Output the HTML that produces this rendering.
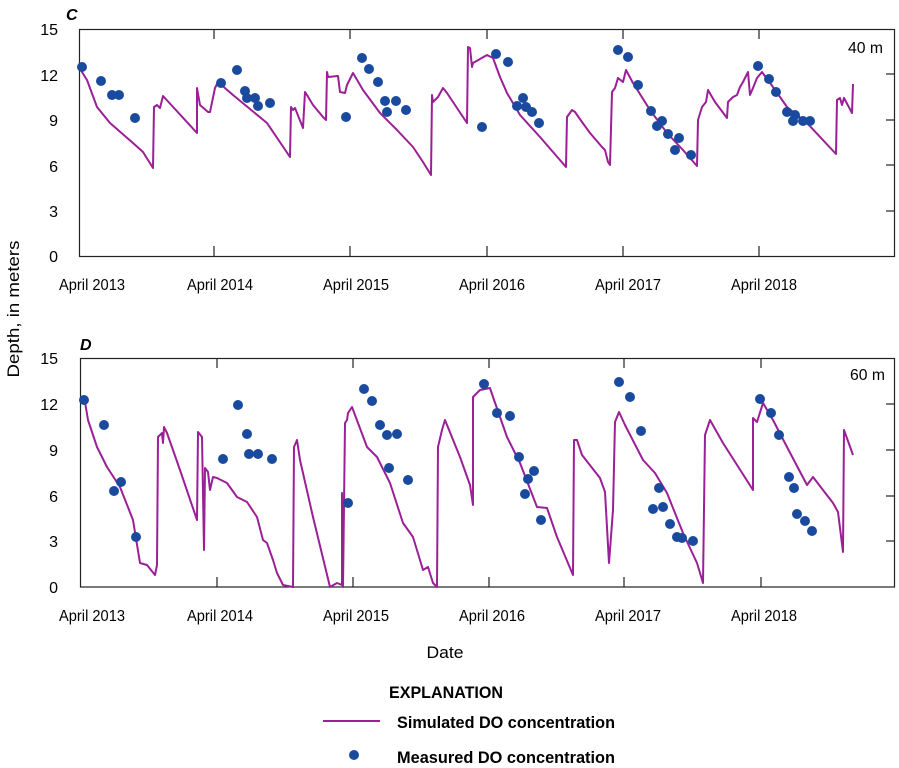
<!DOCTYPE html>
<html><head><meta charset="utf-8"><style>
html,body{margin:0;padding:0;background:#fff;}
svg{display:block;font-family:"Liberation Sans",sans-serif;}
</style></head><body>
<svg width="899" height="768" viewBox="0 0 899 768" xmlns="http://www.w3.org/2000/svg">
<!-- Panel C -->
<text x="66" y="20" font-size="16" font-weight="bold" font-style="italic">C</text>
<rect x="79.5" y="29.5" width="815" height="227" fill="none" stroke="#222" stroke-width="1.2"/>
<g stroke="#222" stroke-width="1.2">
<line x1="214" y1="29" x2="214" y2="39"/><line x1="350" y1="29" x2="350" y2="39"/><line x1="487" y1="29" x2="487" y2="39"/><line x1="623" y1="29" x2="623" y2="39"/><line x1="759" y1="29" x2="759" y2="39"/>
<line x1="214" y1="256" x2="214" y2="246"/><line x1="350" y1="256" x2="350" y2="246"/><line x1="487" y1="256" x2="487" y2="246"/><line x1="623" y1="256" x2="623" y2="246"/><line x1="759" y1="256" x2="759" y2="246"/>
<line x1="894" y1="74" x2="886" y2="74"/><line x1="894" y1="120" x2="886" y2="120"/><line x1="894" y1="165" x2="886" y2="165"/><line x1="894" y1="211" x2="886" y2="211"/>
</g>
<g font-size="16" text-anchor="end">
<text x="58" y="35">15</text><text x="58" y="81">12</text><text x="58" y="126">9</text><text x="58" y="172">6</text><text x="58" y="217">3</text><text x="58" y="262">0</text>
</g>
<g font-size="16" text-anchor="middle">
<text x="92" y="290" textLength="66" lengthAdjust="spacingAndGlyphs">April 2013</text><text x="220" y="290" textLength="66" lengthAdjust="spacingAndGlyphs">April 2014</text><text x="356" y="290" textLength="66" lengthAdjust="spacingAndGlyphs">April 2015</text><text x="492" y="290" textLength="66" lengthAdjust="spacingAndGlyphs">April 2016</text><text x="628" y="290" textLength="66" lengthAdjust="spacingAndGlyphs">April 2017</text><text x="764" y="290" textLength="66" lengthAdjust="spacingAndGlyphs">April 2018</text>
</g>
<text x="883" y="53" font-size="16" text-anchor="end" textLength="35" lengthAdjust="spacingAndGlyphs">40 m</text>
<polyline fill="none" stroke="#9b1f96" stroke-width="2" stroke-linejoin="round" points="80,64 82,72 87,80 97,107 110,123 133,143 143,152 153,168 154,107 157,105 160,108 163,96 197,133 197,88 200,105 208,112 210,112 215,88 218,82 233,95 267,123 290,157 291,107 293,110 295,108 303,128 305,92 307,95 313,105 323,117 326,120 327,72 328,77 338,76 340,92 345,93 347,85 353,73 363,90 380,113 397,130 413,147 423,162 431,175 432,95 433,102 438,97 443,88 447,93 467,123 468,47 470,48 472,67 473,63 487,55 493,58 500,77 507,93 520,115 540,137 566,167 567,117 572,110 575,112 582,122 590,133 602,147 605,150 608,162 610,165 612,92 615,88 618,78 623,82 626,70 633,83 650,110 667,133 683,150 697,166 698,120 702,107 706,102 708,90 715,102 727,118 728,102 733,97 737,95 740,87 743,82 748,72 750,95 753,88 757,78 762,72 773,87 787,107 807,123 836,154 837,100 840,98 842,105 844,98 852,113 853,84"/>
<g fill="#1a4a9e">
<circle cx="82" cy="67" r="5"/><circle cx="101" cy="81" r="5"/><circle cx="112" cy="95" r="5"/><circle cx="119" cy="95" r="5"/><circle cx="135" cy="118" r="5"/><circle cx="221" cy="83" r="5"/><circle cx="237" cy="70" r="5"/><circle cx="245" cy="91" r="5"/><circle cx="247" cy="98" r="5"/><circle cx="255" cy="98" r="5"/><circle cx="258" cy="106" r="5"/><circle cx="270" cy="103" r="5"/>
<circle cx="346" cy="117" r="5"/><circle cx="362" cy="58" r="5"/><circle cx="369" cy="69" r="5"/><circle cx="378" cy="82" r="5"/><circle cx="385" cy="101" r="5"/><circle cx="387" cy="112" r="5"/><circle cx="396" cy="101" r="5"/><circle cx="406" cy="110" r="5"/>
<circle cx="482" cy="127" r="5"/><circle cx="496" cy="54" r="5"/><circle cx="508" cy="62" r="5"/><circle cx="523" cy="98" r="5"/><circle cx="517" cy="106" r="5"/><circle cx="526" cy="107" r="5"/><circle cx="532" cy="112" r="5"/><circle cx="539" cy="123" r="5"/>
<circle cx="618" cy="50" r="5"/><circle cx="628" cy="57" r="5"/><circle cx="638" cy="85" r="5"/><circle cx="651" cy="111" r="5"/><circle cx="657" cy="126" r="5"/><circle cx="662" cy="121" r="5"/><circle cx="668" cy="134" r="5"/><circle cx="675" cy="150" r="5"/><circle cx="679" cy="138" r="5"/><circle cx="691" cy="155" r="5"/>
<circle cx="758" cy="66" r="5"/><circle cx="769" cy="79" r="5"/><circle cx="776" cy="92" r="5"/><circle cx="787" cy="112" r="5"/><circle cx="793" cy="121" r="5"/><circle cx="795" cy="115" r="5"/><circle cx="803" cy="121" r="5"/><circle cx="810" cy="121" r="5"/>
</g>

<!-- Panel D -->
<text x="80" y="350" font-size="16" font-weight="bold" font-style="italic">D</text>
<rect x="80.5" y="358.5" width="814" height="228.5" fill="none" stroke="#222" stroke-width="1.2"/>
<g stroke="#222" stroke-width="1.2">
<line x1="217" y1="358" x2="217" y2="368"/><line x1="353" y1="358" x2="353" y2="368"/><line x1="489" y1="358" x2="489" y2="368"/><line x1="624" y1="358" x2="624" y2="368"/><line x1="761" y1="358" x2="761" y2="368"/>
<line x1="217" y1="587" x2="217" y2="577"/><line x1="353" y1="587" x2="353" y2="577"/><line x1="489" y1="587" x2="489" y2="577"/><line x1="624" y1="587" x2="624" y2="577"/><line x1="761" y1="587" x2="761" y2="577"/>
<line x1="894" y1="404" x2="886" y2="404"/><line x1="894" y1="450" x2="886" y2="450"/><line x1="894" y1="496" x2="886" y2="496"/><line x1="894" y1="541" x2="886" y2="541"/>
</g>
<g font-size="16" text-anchor="end">
<text x="58" y="364">15</text><text x="58" y="410">12</text><text x="58" y="456">9</text><text x="58" y="502">6</text><text x="58" y="547">3</text><text x="58" y="593">0</text>
</g>
<g font-size="16" text-anchor="middle">
<text x="92" y="621" textLength="66" lengthAdjust="spacingAndGlyphs">April 2013</text><text x="220" y="621" textLength="66" lengthAdjust="spacingAndGlyphs">April 2014</text><text x="356" y="621" textLength="66" lengthAdjust="spacingAndGlyphs">April 2015</text><text x="492" y="621" textLength="66" lengthAdjust="spacingAndGlyphs">April 2016</text><text x="628" y="621" textLength="66" lengthAdjust="spacingAndGlyphs">April 2017</text><text x="764" y="621" textLength="66" lengthAdjust="spacingAndGlyphs">April 2018</text>
</g>
<text x="885" y="380" font-size="16" text-anchor="end" textLength="35" lengthAdjust="spacingAndGlyphs">60 m</text>
<polyline fill="none" stroke="#9b1f96" stroke-width="2" stroke-linejoin="round" points="82,398 85,402 88,420 97,447 107,467 120,487 133,520 140,563 147,565 155,575 157,565 158,437 162,433 163,443 164,427 167,433 180,470 197,520 198,432 202,437 204,550 205,468 208,472 210,490 213,477 217,478 227,483 237,497 247,502 257,517 263,540 267,543 273,560 277,573 283,585 293,587 294,447 297,440 300,460 313,517 330,587 337,583 342,585 342,493 343,587 345,423 347,420 348,413 352,407 367,447 377,457 390,483 403,523 413,537 423,570 428,567 433,583 437,587 438,447 442,430 445,420 460,457 470,485 473,505 473,397 480,390 490,388 493,397 507,437 520,463 537,507 547,508 557,537 573,575 574,440 577,440 582,455 600,478 605,492 609,563 613,510 615,422 619,412 625,425 643,460 655,473 667,493 683,533 697,563 703,583 705,435 710,420 723,443 753,490 753,418 757,422 763,403 773,420 787,447 807,485 813,477 833,503 838,512 843,552 844,430 853,455"/>
<g fill="#1a4a9e">
<circle cx="84" cy="400" r="5"/><circle cx="104" cy="425" r="5"/><circle cx="114" cy="491" r="5"/><circle cx="121" cy="482" r="5"/><circle cx="136" cy="537" r="5"/><circle cx="223" cy="459" r="5"/><circle cx="238" cy="405" r="5"/><circle cx="247" cy="434" r="5"/><circle cx="249" cy="454" r="5"/><circle cx="258" cy="454" r="5"/><circle cx="272" cy="459" r="5"/>
<circle cx="348" cy="503" r="5"/><circle cx="364" cy="389" r="5"/><circle cx="372" cy="401" r="5"/><circle cx="380" cy="425" r="5"/><circle cx="387" cy="435" r="5"/><circle cx="397" cy="434" r="5"/><circle cx="389" cy="468" r="5"/><circle cx="408" cy="480" r="5"/>
<circle cx="484" cy="384" r="5"/><circle cx="497" cy="413" r="5"/><circle cx="510" cy="416" r="5"/><circle cx="519" cy="457" r="5"/><circle cx="534" cy="471" r="5"/><circle cx="528" cy="479" r="5"/><circle cx="525" cy="494" r="5"/><circle cx="541" cy="520" r="5"/>
<circle cx="619" cy="382" r="5"/><circle cx="630" cy="397" r="5"/><circle cx="641" cy="431" r="5"/><circle cx="659" cy="488" r="5"/><circle cx="653" cy="509" r="5"/><circle cx="663" cy="507" r="5"/><circle cx="670" cy="524" r="5"/><circle cx="677" cy="537" r="5"/><circle cx="682" cy="538" r="5"/><circle cx="693" cy="541" r="5"/>
<circle cx="760" cy="399" r="5"/><circle cx="771" cy="413" r="5"/><circle cx="779" cy="435" r="5"/><circle cx="789" cy="477" r="5"/><circle cx="794" cy="488" r="5"/><circle cx="797" cy="514" r="5"/><circle cx="805" cy="521" r="5"/><circle cx="812" cy="531" r="5"/>
</g>

<text transform="translate(19,309) rotate(-90)" font-size="17" text-anchor="middle" textLength="137" lengthAdjust="spacingAndGlyphs">Depth, in meters</text>
<text x="445" y="658" font-size="17" text-anchor="middle" textLength="37" lengthAdjust="spacingAndGlyphs">Date</text>

<text x="446" y="698" font-size="17" font-weight="bold" text-anchor="middle" textLength="114" lengthAdjust="spacingAndGlyphs">EXPLANATION</text>
<line x1="323" y1="721" x2="380" y2="721" stroke="#9b1f96" stroke-width="2"/>
<text x="397" y="728" font-size="17" font-weight="bold" textLength="218" lengthAdjust="spacingAndGlyphs">Simulated DO concentration</text>
<circle cx="354" cy="755" r="5" fill="#1a4a9e"/>
<text x="397" y="763" font-size="17" font-weight="bold" textLength="218" lengthAdjust="spacingAndGlyphs">Measured DO concentration</text>
</svg>
</body></html>
